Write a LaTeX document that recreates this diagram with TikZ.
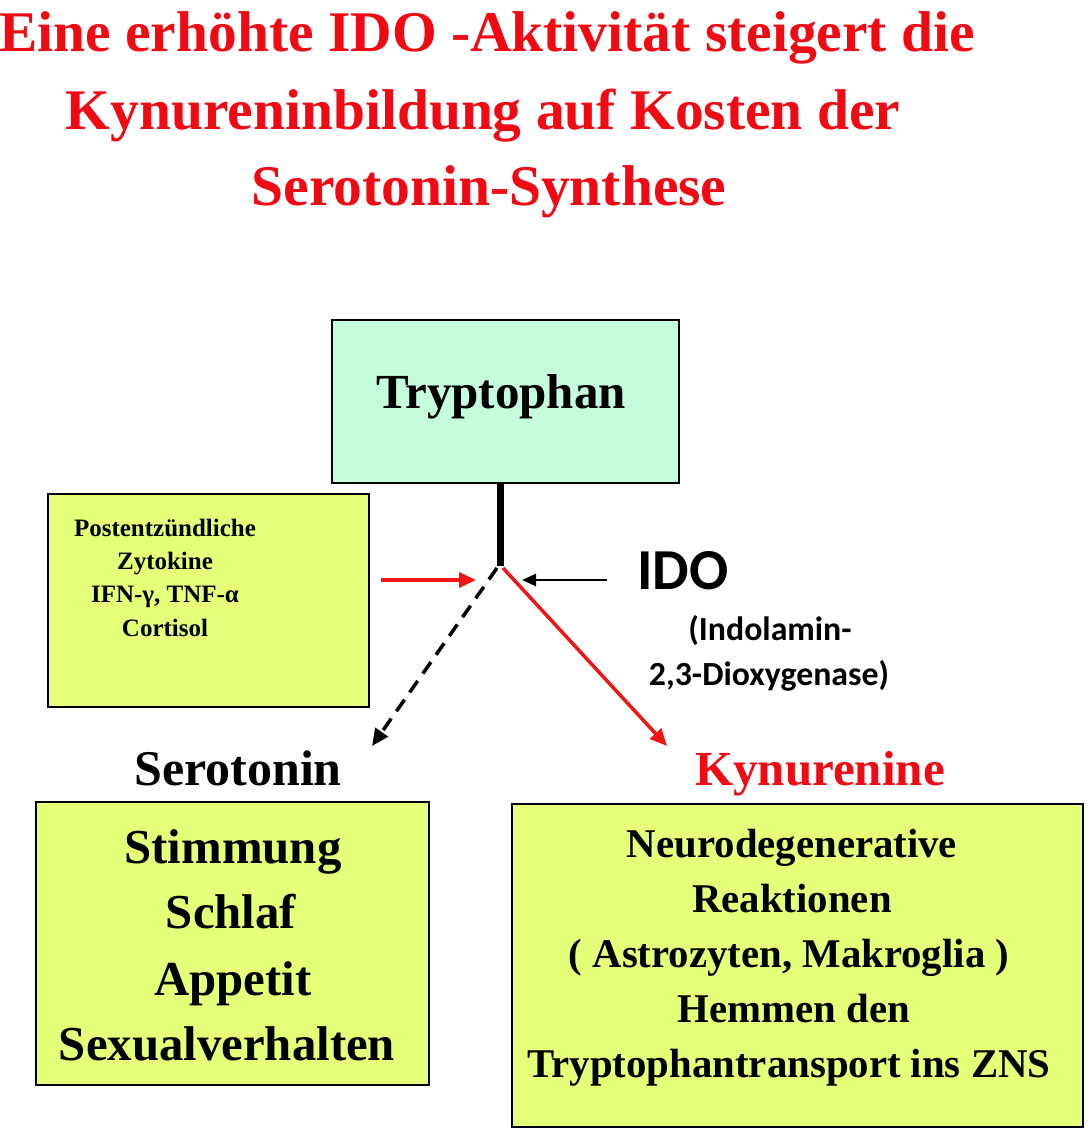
\documentclass[tikz,border=0pt]{standalone}
\usepackage{fontspec}
\setmainfont{Liberation Serif}
\newfontfamily\sansb{Carlito}
\usetikzlibrary{arrows.meta}
\definecolor{titlered}{RGB}{240,10,20}
\definecolor{mint}{RGB}{196,252,220}
\definecolor{boxyellow}{RGB}{229,255,120}
\definecolor{arrred}{RGB}{240,20,20}
\tikzset{
  box/.style={draw=black, line width=2pt},
  ttl/.style={anchor=base, text=titlered, font=\fontsize{57.5}{60}\selectfont\bfseries, inner sep=0pt},
  lbl/.style={anchor=base, inner sep=0pt, font=\bfseries},
  arr/.style={-{Triangle[length=17pt,width=15pt]}},
}
\begin{document}
\begin{tikzpicture}[x=1pt,y=-1pt]
\useasboundingbox (0,0) rectangle (1088,1129);
% title
\node[ttl] (t1) at (487,52) {Eine erhöhte IDO -Aktivität steigert die};
\node[ttl] (t2) at (483,130) {Kynureninbildung auf Kosten der};
\node[ttl] (t3) at (489,205) {Serotonin-Synthese};
% boxes
\draw[box, fill=mint] (332,320) rectangle (679,483);
\node[lbl, font=\fontsize{49}{52}\selectfont\bfseries] (tryp) at (501,408) {Tryptophan};
\coordinate (tbot) at (500,483);
\coordinate (junc) at (500,566);
\draw[line width=7pt] (tbot) -- (junc);

\draw[box, fill=boxyellow] (48,494) rectangle (369,707);
\node[lbl, font=\fontsize{25}{27}\selectfont\bfseries] (c1) at (165,536) {Postentzündliche};
\node[lbl, font=\fontsize{25}{27}\selectfont\bfseries] (c2) at (165,569) {Zytokine};
\node[lbl, font=\fontsize{25}{27}\selectfont\bfseries] (c3) at (165,602) {IFN-γ, TNF-α};
\node[lbl, font=\fontsize{25}{27}\selectfont\bfseries] (c4) at (165,636) {Cortisol};

\coordinate (ra0) at (381,580);
\coordinate (ra1) at (476,580);
\draw[arr, arrred, line width=3.5pt] (ra0) -- (ra1);
\coordinate (ba0) at (607,580);
\coordinate (ba1) at (522,580);
\draw[-{Triangle[length=14pt,width=12pt]}, line width=2.5pt] (ba0) -- (ba1);

\node[lbl, font=\sansb\fontsize{58}{60}\selectfont\bfseries] (ido) at (683,589) {IDO};
\node[lbl, font=\sansb\fontsize{33.8}{36}\selectfont\bfseries] (ido1) at (770,640) {(Indolamin-};
\node[lbl, font=\sansb\fontsize{33.8}{36}\selectfont\bfseries] (ido2) at (769,685) {2,3-Dioxygenase)};

\coordinate (serA) at (372,746);
\coordinate (kynA) at (667,746);
\draw[arr, dashed, dash pattern=on 14pt off 9pt, line width=3.5pt] (497,568) -- (serA);
\draw[arr, arrred, line width=3.5pt] (503,568) -- (kynA);

\node[lbl, font=\fontsize{50}{52}\selectfont\bfseries] (ser) at (238,785) {Serotonin};
\node[lbl, text=titlered, font=\fontsize{49}{52}\selectfont\bfseries] (kyn) at (820,785) {Kynurenine};

\draw[box, fill=boxyellow] (36,802) rectangle (429,1085);
\node[lbl, font=\fontsize{48.8}{50}\selectfont\bfseries] (s1) at (233,863) {Stimmung};
\node[lbl, font=\fontsize{48.8}{50}\selectfont\bfseries] (s2) at (231,928) {Schlaf};
\node[lbl, font=\fontsize{48.8}{50}\selectfont\bfseries] (s3) at (233,995) {Appetit};
\node[lbl, font=\fontsize{48.8}{50}\selectfont\bfseries] (s4) at (227,1060) {Sexualverhalten};

\draw[box, fill=boxyellow] (512,804) rectangle (1083,1127);
\node[lbl, font=\fontsize{40.8}{42}\selectfont\bfseries] (k1) at (792,857) {Neurodegenerative};
\node[lbl, font=\fontsize{40.8}{42}\selectfont\bfseries] (k2) at (792,912) {Reaktionen};
\node[lbl, font=\fontsize{40.8}{42}\selectfont\bfseries] (k3) at (789,967) {( Astrozyten, Makroglia )};
\node[lbl, font=\fontsize{40.8}{42}\selectfont\bfseries] (k4) at (794,1022) {Hemmen den};
\node[lbl, font=\fontsize{40.8}{42}\selectfont\bfseries] (k5) at (789,1077) {Tryptophantransport ins ZNS};
\end{tikzpicture}
\end{document}
